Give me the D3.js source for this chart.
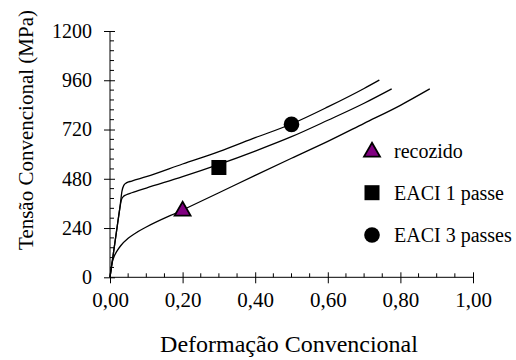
<!DOCTYPE html>
<html><head><meta charset="utf-8">
<script src="https://cdn.jsdelivr.net/npm/d3@7"></script>
<style>body{margin:0;background:#fff}svg{display:block}</style>
</head><body>
<svg id="c" width="516" height="360"></svg>
<script>
const xTicks = [0, 0.2, 0.4, 0.6, 0.8, 1.0];
const yTicks = [0, 240, 480, 720, 960, 1200];
const seriesNames = ["recozido", "EACI 1 passe", "EACI 3 passes"];
const recozidoX = [0, 0.004, 0.01, 0.02, 0.03, 0.05, 0.07, 0.1, 0.2, 0.3, 0.4, 0.5, 0.6, 0.7, 0.8, 0.881];
const recozidoY = [0, 55, 95, 130, 155, 190, 215, 245, 328, 412, 497, 580, 662, 750, 838, 918];
const passe1X = [0, 0.01, 0.02, 0.027, 0.031, 0.036, 0.045, 0.06, 0.1, 0.2, 0.3, 0.4, 0.5, 0.6, 0.7, 0.776];
const passe1Y = [0, 125, 250, 335, 375, 392, 402, 412, 435, 490, 550, 615, 685, 765, 848, 918];
const passe3X = [0, 0.01, 0.02, 0.028, 0.033, 0.038, 0.045, 0.06, 0.1, 0.2, 0.3, 0.4, 0.5, 0.6, 0.7, 0.742];
const passe3Y = [0, 125, 250, 350, 420, 448, 460, 469, 490, 552, 612, 680, 747, 830, 920, 961];
const markerX = [0.2, 0.3, 0.5];
const markerY = [328, 535, 745];

const FONT = "Liberation Serif";
const svg = d3.select("#c");
const x = d3.scaleLinear().domain([0, 1]).range([110, 473]);
const y = d3.scaleLinear().domain([0, 1200]).range([277.3, 31]);

// axes
const fmtX = d => d3.format(".2f")(d).replace(".", ",");
const gx = svg.append("g").attr("transform", `translate(0,${y(0)})`)
  .call(d3.axisBottom(x).tickValues(xTicks).tickSize(6).tickPadding(9).tickFormat(fmtX));
gx.attr("font-family", FONT).attr("font-size", 21);
gx.select(".domain").attr("d", `M${x(0)},0H${x(1)}`);
gx.selectAll(".tick line").attr("y1", -5).attr("y2", 6);
gx.selectAll("text").attr("font-family", FONT).attr("font-size", 21).attr("fill", "#000");
gx.selectAll("path,line").attr("stroke", "#000").attr("stroke-width", 1);
const gy = svg.append("g").attr("transform", `translate(${x(0)},0)`)
  .call(d3.axisLeft(y).tickValues(yTicks).tickSize(6).tickPadding(12).tickFormat(d => String(d)));
gy.attr("font-family", FONT).attr("font-size", 20);
gy.select(".domain").attr("d", `M0,${y(0)}V${y(1200)}`);
gy.selectAll(".tick line").attr("x1", 5).attr("x2", -6);
gy.selectAll("text").attr("font-family", FONT).attr("font-size", 20).attr("fill", "#000");
gy.selectAll("path,line").attr("stroke", "#000").attr("stroke-width", 1);

// minor ticks
const xMinor = d3.range(0, 1.0001, 0.05).filter(v => Math.abs(v / 0.2 - Math.round(v / 0.2)) > 1e-6);
svg.append("g").selectAll("line").data(xMinor).join("line")
  .attr("x1", d => x(d)).attr("x2", d => x(d)).attr("y1", y(0)).attr("y2", y(0) - 4)
  .attr("stroke", "#000");
const yMinor = d3.range(0, 1201, 48).filter(v => v % 240 !== 0);
svg.append("g").selectAll("line").data(yMinor).join("line")
  .attr("x1", x(0)).attr("x2", x(0) + 4).attr("y1", d => y(d)).attr("y2", d => y(d))
  .attr("stroke", "#000");

// titles
svg.append("text").attr("x", 289).attr("y", 352).attr("text-anchor", "middle")
  .attr("font-family", FONT).attr("font-size", 24).text("Deformação Convencional");
svg.append("text").attr("transform", "translate(33,130) rotate(-90)").attr("text-anchor", "middle")
  .attr("font-family", FONT).attr("font-size", 21).text("Tensão Convencional (MPa)");

// curves
const line = d3.line().x(d => x(d[0])).y(d => y(d[1])).curve(d3.curveMonotoneX);
const curves = [d3.zip(recozidoX, recozidoY), d3.zip(passe1X, passe1Y), d3.zip(passe3X, passe3Y)];
svg.append("g").selectAll("path").data(curves).join("path")
  .attr("d", line).attr("fill", "none").attr("stroke", "#000").attr("stroke-width", 1.3);

// markers
function drawMarker(g, i, cx, cy) {
  if (i === 0) {
    g.append("path").attr("d", d3.symbol(d3.symbolTriangle, 110)())
      .attr("transform", `translate(${cx},${cy + 1})`)
      .attr("fill", "#800080").attr("stroke", "#000").attr("stroke-width", 1.8);
  } else if (i === 1) {
    g.append("rect").attr("x", cx - 7.5).attr("y", cy - 7.5).attr("width", 15).attr("height", 15).attr("fill", "#000");
  } else {
    g.append("circle").attr("cx", cx).attr("cy", cy).attr("r", 7.8).attr("fill", "#000");
  }
}
const mg = svg.append("g");
markerX.forEach((v, i) => drawMarker(mg, i, x(v), y(markerY[i])));

// legend
const legY = [151, 192.7, 235];
const lg = svg.append("g");
seriesNames.forEach((n, i) => {
  drawMarker(lg, i, 372, legY[i]);
  lg.append("text").attr("x", 394).attr("y", legY[i]).attr("dy", "0.35em")
    .attr("font-family", FONT).attr("font-size", 20).text(n);
});
</script>
</body></html>
